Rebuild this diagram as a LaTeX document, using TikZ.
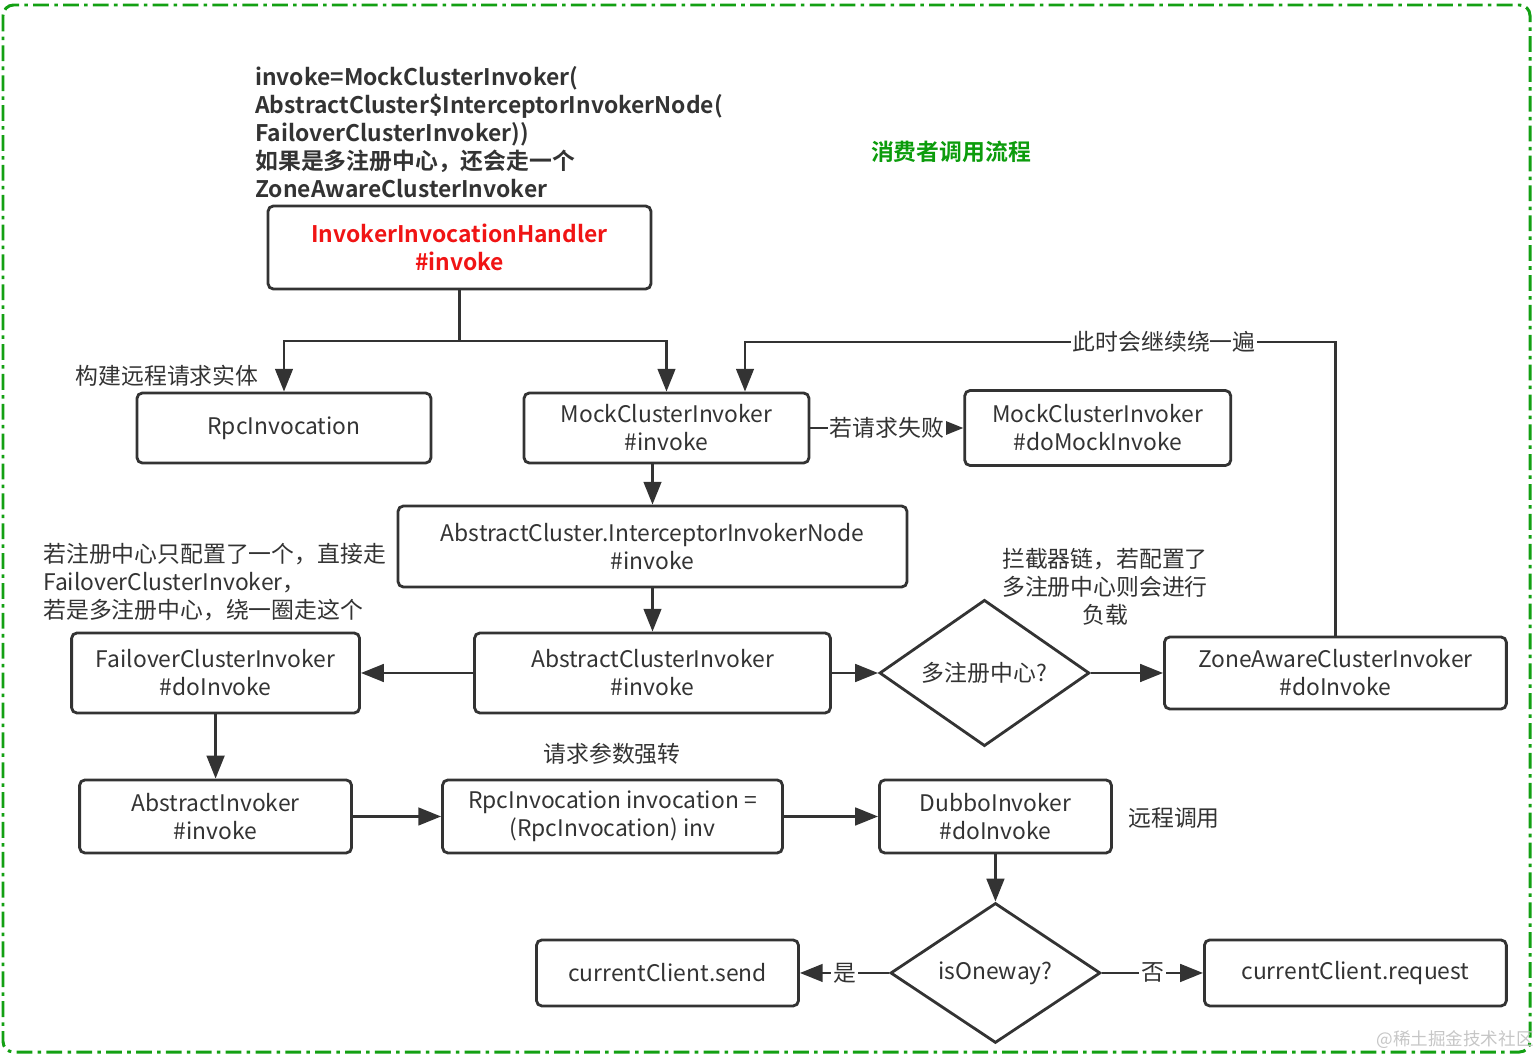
\documentclass[tikz,border=0pt]{standalone}
\usepackage{fontspec}
\setmainfont{Noto Sans CJK SC}[BoldFont={Noto Sans CJK SC Bold}]
\usetikzlibrary{arrows.meta,positioning,shapes.geometric}
\definecolor{inkGray}{HTML}{333333}
\definecolor{frameGreen}{HTML}{13A013}
\definecolor{titleGreen}{HTML}{0C9C0C}
\definecolor{handlerRed}{HTML}{F01414}

\begin{document}
\begin{tikzpicture}[
    x=0.02cm, y=-0.02cm,
    font=\fontsize{13}{15.9}\selectfont,
    every node/.style={text=inkGray},
    boldText/.style={font=\fontsize{13}{15.9}\selectfont\bfseries},
    stepBox/.style={
        rectangle, rounded corners=3pt, draw=inkGray, line width=1.6pt,
        align=center, inner sep=2pt
    },
    decisionNode/.style={
        diamond, draw=inkGray, line width=1.6pt, inner sep=0pt,
        minimum width=4.2cm, minimum height=2.8cm
    },
    flowArrow/.style={
        -{Triangle[length=13pt, width=10pt]}, line width=1.6pt, draw=inkGray
    },
    edgeLabel/.style={fill=white, inner sep=1pt},
    frameLine/.style={
        draw=frameGreen, line width=1.7pt, rounded corners=6pt,
        dash pattern=on 9pt off 3pt on 2pt off 3pt
    }
]
\useasboundingbox (0,0) rectangle (1537,1058);

% Outer frame
\draw[frameLine] (3,5) rectangle (1530,1052);

% Title and top note
\node[boldText, text=titleGreen] (title) at (951,152) {消费者调用流程};
\node[boldText, anchor=west, align=left, inner sep=0pt] (topNote) at (255,132) {
    invoke=MockClusterInvoker(\\
    AbstractCluster\$InterceptorInvokerNode(\\
    FailoverClusterInvoker))\\
    如果是多注册中心，还会走一个\\
    ZoneAwareClusterInvoker
};

% Entry point
\node[stepBox, boldText, text=handlerRed, minimum width=7.66cm, minimum height=1.66cm] (handler) at (459.5,247.5) {
    InvokerInvocationHandler\\
    \#invoke
};

% Second row
\node[stepBox, minimum width=5.88cm, minimum height=1.40cm] (rpcInv) at (284,428) {RpcInvocation};
\node[stepBox, minimum width=5.70cm, minimum height=1.40cm] (mockInv) at (666.5,428) {
    MockClusterInvoker\\
    \#invoke
};
\node[stepBox, minimum width=5.32cm, minimum height=1.50cm, right=3.06cm of mockInv] (doMock) {
    MockClusterInvoker\\
    \#doMockInvoke
};

% Interceptor chain
\node[stepBox, minimum width=10.18cm, minimum height=1.62cm] (interceptor) at (652.5,546.5) {
    AbstractCluster.InterceptorInvokerNode\\
    \#invoke
};
\node[stepBox, minimum width=7.12cm, minimum height=1.60cm, below=0.864cm of interceptor] (clusterInv) {
    AbstractClusterInvoker\\
    \#invoke
};
\node[stepBox, minimum width=5.76cm, minimum height=1.60cm, left=2.244cm of clusterInv] (failover) {
    FailoverClusterInvoker\\
    \#doInvoke
};
\node[decisionNode, right=0.924cm of clusterInv] (multiReg) {多注册中心?};
\node[stepBox, minimum width=6.84cm, minimum height=1.44cm, right=1.444cm of multiReg] (zoneAware) {
    ZoneAwareClusterInvoker\\
    \#doInvoke
};

% Invocation row
\node[stepBox, minimum width=5.44cm, minimum height=1.46cm, below=1.284cm of failover] (absInvoker) {
    AbstractInvoker\\
    \#invoke
};
\node[stepBox, minimum width=6.80cm, minimum height=1.46cm, right=1.764cm of absInvoker] (castInv) {
    RpcInvocation invocation =\\
    (RpcInvocation) inv
};
\node[stepBox, minimum width=4.64cm, minimum height=1.46cm, right=1.884cm of castInv] (dubbo) {
    DubboInvoker\\
    \#doInvoke
};

% Oneway decision
\node[decisionNode, below=0.944cm of dubbo] (oneway) {isOneway?};
\node[stepBox, minimum width=5.24cm, minimum height=1.32cm, left=1.784cm of oneway] (clientSend) {currentClient.send};
\node[stepBox, minimum width=6.04cm, minimum height=1.32cm, right=2.024cm of oneway] (clientRequest) {currentClient.request};

% Free annotations
\node (buildNote) at (167,376) {构建远程请求实体};
\node[anchor=west, align=left, inner sep=0pt] (registryNote) at (43,582) {
    若注册中心只配置了一个，直接走\\
    FailoverClusterInvoker，\\
    若是多注册中心，绕一圈走这个
};
\node[align=center, inner sep=0pt] (chainNote) at (1105,587) {
    拦截器链，若配置了\\
    多注册中心则会进行\\
    负载
};
\node (castNote) at (612,754) {请求参数强转};
\node (remoteNote) at (1174,818) {远程调用};
\node[text=gray!45, font=\fontsize{10}{12}\selectfont] (watermark) at (1455,1040) {@稀土掘金技术社区};

% Flows
\coordinate (split) at (459.5,341);
\draw[flowArrow] (handler.south) -- (split) -| (rpcInv.north);
\draw[flowArrow] (split) -| (mockInv.north);
\draw[flowArrow] (mockInv.east) -- node[edgeLabel] {若请求失败} (mockInv.east -| doMock.west);

\coordinate (loopTurn) at (745,342);
\draw[flowArrow] (zoneAware.north) |- node[edgeLabel, pos=0.645] {此时会继续绕一遍} (loopTurn) -- (loopTurn |- mockInv.north);

\draw[flowArrow] (interceptor.north |- mockInv.south) -- (interceptor.north);
\draw[flowArrow] (interceptor.south) -- (clusterInv.north);
\draw[flowArrow] (clusterInv.west) -- (failover.east);
\draw[flowArrow] (clusterInv.east) -- (multiReg.west);
\draw[flowArrow] (multiReg.east) -- (zoneAware.west);

\draw[flowArrow] (failover.south) -- (absInvoker.north);
\draw[flowArrow] (absInvoker.east) -- (castInv.west);
\draw[flowArrow] (castInv.east) -- (dubbo.west);
\draw[flowArrow] (dubbo.south) -- (oneway.north);

\draw[flowArrow] (oneway.west) -- node[edgeLabel] {是} (clientSend.east);
\draw[flowArrow] (oneway.east) -- node[edgeLabel] {否} (clientRequest.west);

\end{tikzpicture}
\end{document}
